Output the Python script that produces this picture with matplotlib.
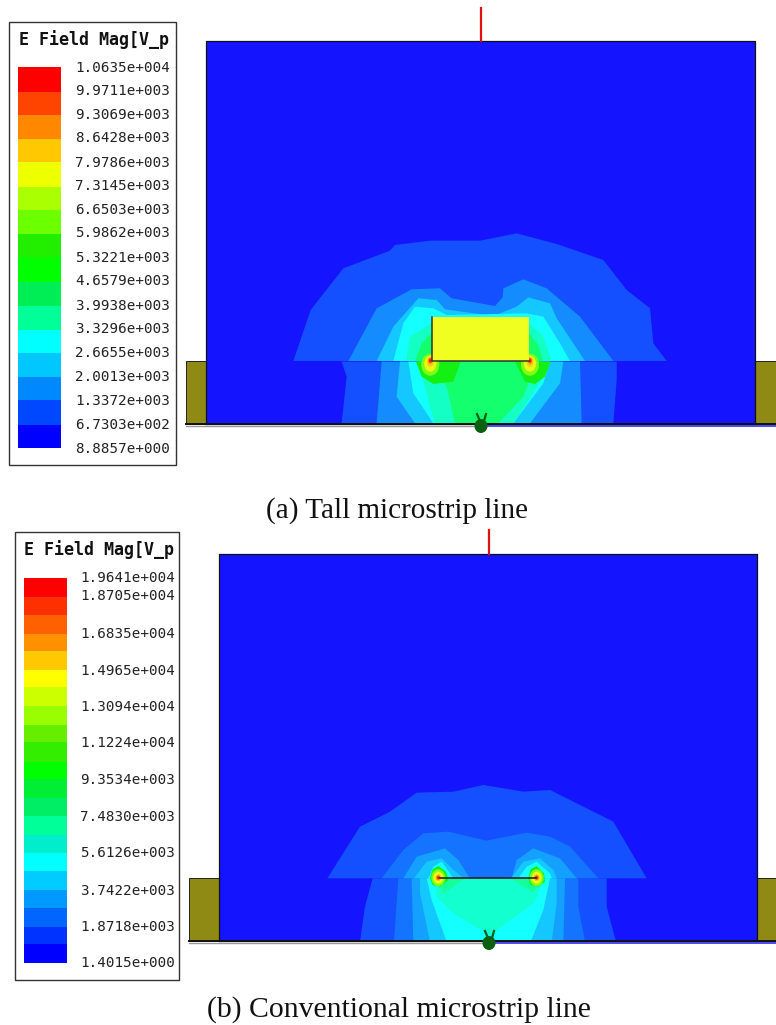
#!/usr/bin/env python3
"""Field magnitude plots of two microstrip lines, with their colour legends."""

import matplotlib
matplotlib.use("Agg")
import matplotlib.pyplot as plt
from matplotlib.patches import Ellipse, Polygon, Rectangle

# legend (a)
TITLE = "E Field Mag[V_p"
LABELS_A = ["1.0635e+004", "9.9711e+003", "9.3069e+003", "8.6428e+003", "7.9786e+003",
            "7.3145e+003", "6.6503e+003", "5.9862e+003", "5.3221e+003", "4.6579e+003",
            "3.9938e+003", "3.3296e+003", "2.6655e+003", "2.0013e+003", "1.3372e+003",
            "6.7303e+002", "8.8857e+000"]
COLORS_A = ["#ff0000", "#ff4400", "#ff8800", "#ffc800", "#eeff00", "#aaff00", "#6cff00",
            "#22ee00", "#00ff00", "#00ee55", "#00ff99", "#00ffff", "#00c8ff",
            "#0088ff", "#0048ff", "#0000ff"]
EDGES_A = [67, 92, 115, 139, 162, 187, 210, 234, 257, 282, 306, 330, 353, 377, 400, 425, 448]
LABEL_Y_A = [68, 91, 115, 138, 163, 186, 210, 233, 258, 281, 306, 329, 353, 377, 401, 425, 449]

# legend (b)
LABELS_B = ["1.9641e+004", "1.8705e+004", "1.6835e+004", "1.4965e+004", "1.3094e+004",
            "1.1224e+004", "9.3534e+003", "7.4830e+003", "5.6126e+003", "3.7422e+003",
            "1.8718e+003", "1.4015e+000"]
LABEL_Y_B = [578, 596, 634, 671, 707, 743, 780, 817, 853, 891, 927, 963]
COLORS_B = ["#ff0000", "#ff3000", "#ff6000", "#ff9000", "#ffc800", "#ffff00", "#ccff00",
            "#99ff00", "#66ee00", "#33ee00", "#00ff00", "#00ee33", "#00ee66", "#00ff99",
            "#00eecc", "#00ffff", "#00ccff", "#0099ff", "#0066ff", "#0033ff", "#0000ff"]
EDGES_B = [578, 597, 615, 634, 651, 670, 687, 706, 725, 742, 762, 779, 798, 816, 835, 853,
           871, 890, 908, 927, 944, 963]

# field colours, low to high
BG = "#1414ff"
L1, L2, L3, L4, L5, L6 = "#1450ff", "#148cff", "#14c8ff", "#14ffff", "#14ffc4", "#14ff6e"
L7 = "#14f014"
B2, B3, B4, B5, B6 = "#1474ff", "#14a0ff", "#14c8ff", "#14ffff", "#14ffd0"
B7 = "#14ff9a"
SPOT_COLORS = ["#80ff14", "#e8ff14", "#ffc814", "#ff6414", "#ff1414"]

# contours of (a) above the substrate: crop origin (280, 220), 3 units per pixel
UPPER_A = [
    (L1, [(40, 423), (92, 270), (190, 145), (330, 92), (345, 75), (450, 62), (600, 62),
          (710, 40), (830, 72), (970, 120), (1040, 210), (1110, 265), (1120, 370), (1160, 423)]),
    (L2, [(205, 423), (290, 265), (395, 208), (480, 205), (515, 235), (645, 258), (668, 232),
          (670, 205), (730, 178), (800, 205), (900, 290), (1000, 423)]),
    (L3, [(290, 423), (340, 320), (415, 235), (470, 240), (495, 268), (640, 288), (710, 260),
          (745, 232), (810, 250), (830, 295), (915, 423)]),
    (L4, [(340, 423), (370, 310), (405, 260), (460, 265), (500, 285), (740, 280), (790, 290),
          (840, 370), (870, 423)]),
    (L5, [(378, 423), (390, 350), (455, 310), (748, 310), (790, 350), (815, 423)]),
    (L6, [(405, 423), (425, 370), (455, 340), (748, 340), (775, 375), (790, 423)]),
]
# below the top of the substrate: crop origin (330, 340)
LOWER_A = [
    (L1, [(35, 65), (50, 110), (35, 250), (850, 250), (860, 120), (860, 65)]),
    (L2, [(155, 65), (140, 250), (755, 250), (750, 65)]),
    (L3, [(210, 65), (200, 170), (255, 250), (600, 250), (690, 130), (700, 65)]),
    (L4, [(235, 65), (250, 160), (310, 250), (550, 250), (640, 130), (660, 65)]),
    (L5, [(265, 65), (300, 200), (315, 250), (550, 250), (590, 190), (640, 110), (640, 65)]),
    (L6, [(290, 65), (350, 140), (375, 250), (505, 250), (580, 170), (620, 65)]),
]
LOBES_A = [
    (L7, [(258, 65), (275, 110), (310, 132), (370, 125), (392, 65)]),
    (L7, [(555, 65), (585, 125), (615, 132), (645, 110), (662, 65)]),
]
SPOTS_A = [(301, 62), (600, 62)]
RADII_A = [(9, 11, 4), (6, 8, 3), (3.5, 5, 1), (2, 3, 0), (1.2, 1.5, 0)]
STRIP_A = [(432, 317), (529, 361)]

# contours of (b): crop origin (320, 770)
UPPER_B = [
    (L1, [(22, 325), (120, 170), (210, 125), (290, 68), (400, 65), (490, 45), (610, 65), (690, 60),
          (880, 155), (980, 325)]),
    (L1, [(158, 325), (135, 410), (120, 515), (888, 515), (860, 410), (860, 325)]),
    (B2, [(185, 325), (250, 240), (310, 190), (385, 185), (500, 212), (620, 188), (690, 200),
          (750, 230), (835, 325)]),
    (B2, [(235, 325), (222, 515), (795, 515), (775, 410), (775, 325)]),
    (B3, [(250, 325), (290, 260), (375, 235), (415, 270), (450, 325)]),
    (B3, [(575, 325), (590, 270), (640, 235), (720, 265), (770, 325)]),
    (B3, [(275, 325), (280, 515), (730, 515), (735, 325)]),
    (B4, [(282, 325), (320, 275), (365, 265), (400, 300), (432, 325)]),
    (B4, [(573, 325), (610, 275), (660, 265), (700, 300), (710, 325)]),
    (B4, [(300, 325), (300, 370), (330, 515), (695, 515), (710, 400), (710, 325)]),
    (B5, [(325, 325), (340, 290), (365, 275), (390, 310), (400, 325)]),
    (B5, [(595, 325), (620, 290), (650, 275), (690, 310), (695, 325)]),
    (B5, [(320, 325), (335, 390), (380, 515), (632, 515), (670, 420), (690, 325)]),
    (B6, [(345, 325), (350, 380), (400, 430), (510, 495), (640, 400), (655, 370), (670, 325)]),
    (B7, [(350, 325), (370, 372), (435, 325)]),
    (B7, [(572, 325), (640, 368), (665, 325)]),
]
LOBES_B = [
    (L7, [(330, 325), (338, 298), (355, 288), (378, 305), (385, 330), (360, 350), (338, 345)]),
    (L7, [(625, 325), (632, 298), (650, 288), (672, 310), (675, 335), (655, 350), (632, 345)]),
]
SPOTS_B = [(355, 323), (650, 323)]
RADII_B = [(7, 8.5, 0), (5, 6, 0), (3, 3.5, 0), (2, 2.2, 0), (1.2, 1.2, 0)]
STRIP_B = [(440, 878), (536, 878)]

CAPTION_A = "(a) Tall microstrip line"
CAPTION_B = "(b) Conventional microstrip line"

OLIVE = "#8f8a14"


def crop(points, origin):
    return [(origin[0] + x / 3, origin[1] + y / 3) for x, y in points]


def draw_legend(ax, box, bar_x, colors, edges, labels, label_y, label_x, title_x):
    ax.add_patch(Rectangle((box[0], box[1]), box[2] - box[0], box[3] - box[1],
                           fc="white", ec="#333333", lw=1.0))
    ax.text(title_x, box[1] + 18, TITLE, family="DejaVu Sans Mono", fontweight="bold",
            fontsize=12, va="center", ha="left", color="#111111")
    for i, color in enumerate(colors):
        ax.add_patch(Rectangle((bar_x[0], edges[i]), bar_x[1] - bar_x[0], edges[i + 1] - edges[i],
                               fc=color, ec="none"))
    for label, y in zip(labels, label_y):
        ax.text(label_x, y, label, family="DejaVu Sans Mono", fontsize=10.25,
                va="center", ha="left", color="#222222")


def draw_bug(ax, x, y):
    ax.add_patch(Ellipse((x, y + 1), 13, 14, fc="#0a5f10", ec="none", zorder=6))
    ax.plot([x - 1, x - 4], [y - 4, y - 11], color="#0a5f10", lw=1.6, zorder=6)
    ax.plot([x + 3, x + 5], [y - 4, y - 11], color="#0a5f10", lw=1.6, zorder=6)


def draw_panel(ax, box, olive, wire_x, wire_top, layers, spots, radii):
    left, top, right, bottom = box
    ax.add_patch(Rectangle((left, top), right - left, bottom - top, fc=BG, ec="none"))
    for x0, x1 in olive[0]:
        ax.add_patch(Rectangle((x0, olive[1]), x1 - x0, bottom - olive[1], fc=OLIVE,
                               ec="#222222", lw=0.7))
    for field, origin in layers:
        for color, pts in field:
            ax.add_patch(Polygon(crop(pts, origin), closed=True, fc=color, ec="none"))
    origin = layers[-1][1]
    for sx, sy in spots:
        cx, cy = crop([(sx, sy)], origin)[0]
        for color, (rx, ry, dy) in zip(SPOT_COLORS, radii):
            ax.add_patch(Ellipse((cx, cy + dy), 2 * rx, 2 * ry, fc=color, ec="none"))
    ax.plot([left, right, right, left, left], [bottom, bottom, top, top, bottom],
            color="#111111", lw=0.9)
    ax.plot([olive[0][0][0], 776], [bottom, bottom], color="#111111", lw=1.4, zorder=5)
    ax.plot([olive[0][0][0], wire_x], [bottom + 1.5, bottom + 1.5], color="#999999", lw=1, zorder=4)
    ax.plot([wire_x, 776], [bottom + 1.5, bottom + 1.5], color="#2a2aee", lw=1.2, zorder=4)
    ax.plot([wire_x, wire_x], [wire_top, top], color="#e01010", lw=1.6)
    draw_bug(ax, wire_x, bottom + 1)


fig = plt.figure(figsize=(7.76, 10.25), dpi=100)
ax = fig.add_axes([0, 0, 1, 1])
ax.set_xlim(0, 776)
ax.set_ylim(1025, 0)
ax.axis("off")

draw_panel(ax, (206, 41, 755, 424), ([(186, 206), (755, 776)], 361), 481, 8,
           [(UPPER_A, (280, 220)), (LOWER_A, (330, 340)), (LOBES_A, (330, 340))], SPOTS_A, RADII_A)
(x0, y0), (x1, y1) = STRIP_A
ax.add_patch(Rectangle((x0, y0), x1 - x0, y1 - y0, fc="#f0ff20", ec="none", zorder=3))
ax.plot([x0, x0, x1], [y0, y1, y1], color="#333333", lw=1.1, zorder=3)

draw_panel(ax, (219, 554, 757, 941), ([(189, 219), (757, 776)], 878), 489, 530,
           [(UPPER_B, (320, 770)), (LOBES_B, (320, 770))], SPOTS_B, RADII_B)
(x0, y0), (x1, y1) = STRIP_B
ax.plot([x0, x1], [y0, y1], color="#222222", lw=1.2, zorder=3)

draw_legend(ax, (9, 22, 176, 465), (18, 61), COLORS_A, EDGES_A, LABELS_A, LABEL_Y_A, 75, 19)
draw_legend(ax, (15, 532, 179, 980), (24, 67), COLORS_B, EDGES_B, LABELS_B, LABEL_Y_B, 80, 24)

ax.text(397.5, 511, CAPTION_A, family="Liberation Serif", fontsize=21, ha="center", va="center",
        color="#111111")
ax.text(399, 1010, CAPTION_B, family="Liberation Serif", fontsize=21.4, ha="center", va="center",
        color="#111111")

fig.savefig("out.png", dpi=100)
plt.close(fig)
